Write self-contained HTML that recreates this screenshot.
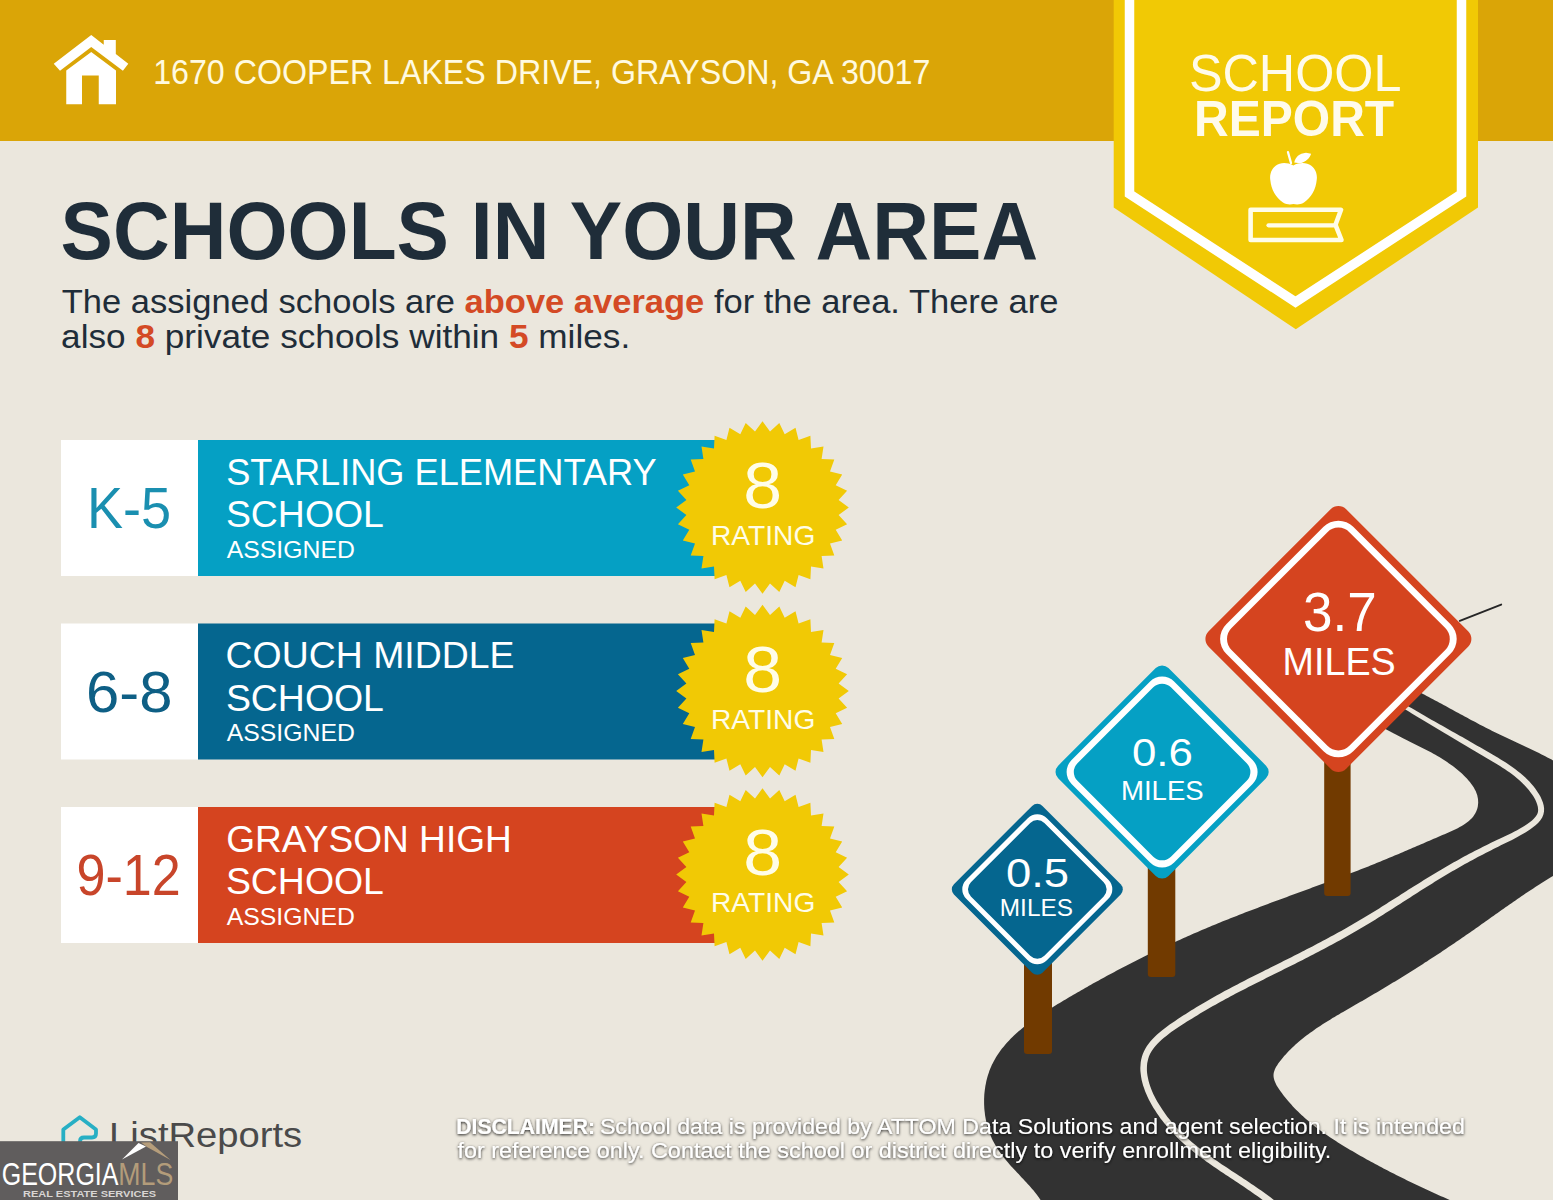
<!DOCTYPE html>
<html><head><meta charset="utf-8"><title>School Report</title>
<style>
html,body{margin:0;padding:0;background:#EBE7DD;}
body{width:1553px;height:1200px;overflow:hidden;}
svg{display:block;font-family:'Liberation Sans', Arial, sans-serif;}
</style></head>
<body>
<svg width="1553" height="1200" viewBox="0 0 1553 1200">
<defs>
<filter id="sh" x="-5%" y="-50%" width="110%" height="200%">
<feGaussianBlur in="SourceAlpha" stdDeviation="1.8" result="b"/>
<feOffset in="b" dx="0.2" dy="0.6" result="o"/>
<feFlood flood-color="#000000" flood-opacity="0.9"/>
<feComposite in2="o" operator="in" result="s"/>
<feMerge><feMergeNode in="s"/><feMergeNode in="SourceGraphic"/></feMerge>
</filter>
</defs>
<rect x="0" y="0" width="1553" height="1200" fill="#EBE7DD"/>
<rect x="0" y="0" width="1553" height="141" fill="#DAA507"/>
<path d="M53.75,63.75 L91.25,35 L103.75,44.7 L103.75,40 L115.8,40 L115.8,54 L128.3,63.75 L122.9,70.8 L91.25,47 L60,70.8 Z" fill="#FFFFFF"/>
<path d="M91.25,52 L116,70.5 L116,104.2 L98.75,104.2 L98.75,75.4 L82,75.4 L82,104.2 L66.25,104.2 L66.25,70.5 Z" fill="#FFFFFF"/>
<text x="153.2" y="83.8" font-size="34.2" fill="#FFFAE0" textLength="777.2" lengthAdjust="spacingAndGlyphs" >1670 COOPER LAKES DRIVE, GRAYSON, GA 30017</text>
<path d="M1113.7,0 L1478,0 L1478,207.5 L1295.8,329.2 L1113.7,207.5 Z" fill="#F1C905"/>
<path d="M1129.5,-10 L1129.5,194 L1295.5,302 L1461.5,194 L1461.5,-10" fill="none" stroke="#FFFFFF" stroke-width="9.5" stroke-linejoin="miter"/>
<text x="1188.9" y="90.5" font-size="51.9" fill="#FFFBEA" textLength="212.6" lengthAdjust="spacingAndGlyphs" >SCHOOL</text>
<text x="1194.1" y="136.2" font-size="49.7" fill="#FFFBEA" font-weight="700" textLength="200.1" lengthAdjust="spacingAndGlyphs" >REPORT</text>
<path d="M1293.3,165.5 C1287,162 1280,162.5 1276,165.5 C1271,169 1269.5,175 1270.3,180 C1271,189 1276,198 1283,202.5 C1287,205 1291,204.5 1293.5,204 C1296,204.5 1300,205 1304,202.5 C1311,198 1316,189 1316.7,180 C1317.5,175 1316,169 1311,165.5 C1307,162.5 1299.5,162 1293.3,165.5 Z" fill="#FFFFFF"/>
<path d="M1288,152.2 L1291,163" stroke="#FFFFFF" stroke-width="2.3" stroke-linecap="round"/>
<path d="M1294.2,162.5 C1295.5,157 1299,153.5 1306,152.8 L1311.1,153.8 C1310,158 1306,162 1300,163.3 Z" fill="#FFFFFF"/>
<path d="M1341,209.8 L1250.6,209.8 L1250.6,240 L1341.5,240 L1335.5,224.8 Z" fill="none" stroke="#FFFDE8" stroke-width="4.6" stroke-linejoin="round"/>
<path d="M1268.5,225.3 L1333.6,225.3" stroke="#FFFDE8" stroke-width="4.2" stroke-linecap="round"/>
<text x="60.6" y="259" font-size="80.8" fill="#1F2D39" font-weight="700" textLength="977.6" lengthAdjust="spacingAndGlyphs" >SCHOOLS IN YOUR AREA</text>
<text x="61.8" y="313.2" font-size="32.9" fill="#1F2D39" textLength="996.7" lengthAdjust="spacingAndGlyphs" >The assigned schools are <tspan font-weight="700" fill="#D44A25">above average</tspan> for the area. There are</text>
<text x="61.1" y="347.6" font-size="32.9" fill="#1F2D39" textLength="569.1" lengthAdjust="spacingAndGlyphs" >also <tspan font-weight="700" fill="#D44A25">8</tspan> private schools within <tspan font-weight="700" fill="#D44A25">5</tspan> miles.</text>
<rect x="61" y="440" width="137" height="136" fill="#FFFFFF"/>
<rect x="198" y="440" width="517" height="136" fill="#05A0C4"/>
<text x="86.9" y="528" font-size="57" fill="#1A8FB0" textLength="84.1" lengthAdjust="spacingAndGlyphs" >K-5</text>
<text x="226.2" y="484.5" font-size="37.8" fill="#FFFFFF" textLength="430.4" lengthAdjust="spacingAndGlyphs" >STARLING ELEMENTARY</text>
<text x="225.9" y="527" font-size="37.8" fill="#FFFFFF" textLength="158" lengthAdjust="spacingAndGlyphs" >SCHOOL</text>
<text x="226.7" y="557.7" font-size="23.7" fill="#FFFFFF" textLength="128.2" lengthAdjust="spacingAndGlyphs" >ASSIGNED</text>
<polygon points="848.8,507.5 838.6,515 847.1,524.3 835.7,529.7 842.2,540.5 830,543.6 834.3,555.4 821.6,556 823.5,568.5 811,566.6 810.4,579.3 798.6,575 795.5,587.2 784.7,580.7 779.3,592.1 770,583.6 762.5,593.8 755,583.6 745.7,592.1 740.3,580.7 729.5,587.2 726.4,575 714.6,579.3 714,566.6 701.5,568.5 703.4,556 690.7,555.4 695,543.6 682.8,540.5 689.3,529.7 677.9,524.3 686.4,515 676.2,507.5 686.4,500 677.9,490.7 689.3,485.3 682.8,474.5 695,471.4 690.7,459.6 703.4,459 701.5,446.5 714,448.4 714.6,435.7 726.4,440 729.5,427.8 740.3,434.3 745.7,422.9 755,431.4 762.5,421.2 770,431.4 779.3,422.9 784.7,434.3 795.5,427.8 798.6,440 810.4,435.7 811,448.4 823.5,446.5 821.6,459 834.3,459.6 830,471.4 842.2,474.5 835.7,485.3 847.1,490.7 838.6,500" fill="#F1C905"/>
<text x="743.3" y="508.2" font-size="65.4" fill="#FFFDE8" textLength="38.8" lengthAdjust="spacingAndGlyphs" >8</text>
<text x="711" y="545.3" font-size="27.9" fill="#FFFDE8" textLength="104.3" lengthAdjust="spacingAndGlyphs" >RATING</text>
<rect x="61" y="623.5" width="137" height="136" fill="#FFFFFF"/>
<rect x="198" y="623.5" width="517" height="136" fill="#05668F"/>
<text x="86" y="711.5" font-size="57" fill="#0E5F85" textLength="86.4" lengthAdjust="spacingAndGlyphs" >6-8</text>
<text x="225.6" y="668.4" font-size="37.8" fill="#FFFFFF" textLength="288.9" lengthAdjust="spacingAndGlyphs" >COUCH MIDDLE</text>
<text x="225.9" y="710.5" font-size="37.8" fill="#FFFFFF" textLength="158" lengthAdjust="spacingAndGlyphs" >SCHOOL</text>
<text x="226.7" y="741.2" font-size="23.7" fill="#FFFFFF" textLength="128.2" lengthAdjust="spacingAndGlyphs" >ASSIGNED</text>
<polygon points="848.8,691 838.6,698.5 847.1,707.8 835.7,713.2 842.2,724 830,727.1 834.3,738.9 821.6,739.5 823.5,752 811,750.1 810.4,762.8 798.6,758.5 795.5,770.7 784.7,764.2 779.3,775.6 770,767.1 762.5,777.3 755,767.1 745.7,775.6 740.3,764.2 729.5,770.7 726.4,758.5 714.6,762.8 714,750.1 701.5,752 703.4,739.5 690.7,738.9 695,727.1 682.8,724 689.3,713.2 677.9,707.8 686.4,698.5 676.2,691 686.4,683.5 677.9,674.2 689.3,668.8 682.8,658 695,654.9 690.7,643.1 703.4,642.5 701.5,630 714,631.9 714.6,619.2 726.4,623.5 729.5,611.3 740.3,617.8 745.7,606.4 755,614.9 762.5,604.7 770,614.9 779.3,606.4 784.7,617.8 795.5,611.3 798.6,623.5 810.4,619.2 811,631.9 823.5,630 821.6,642.5 834.3,643.1 830,654.9 842.2,658 835.7,668.8 847.1,674.2 838.6,683.5" fill="#F1C905"/>
<text x="743.3" y="691.7" font-size="65.4" fill="#FFFDE8" textLength="38.8" lengthAdjust="spacingAndGlyphs" >8</text>
<text x="711" y="728.8" font-size="27.9" fill="#FFFDE8" textLength="104.3" lengthAdjust="spacingAndGlyphs" >RATING</text>
<rect x="61" y="807" width="137" height="136" fill="#FFFFFF"/>
<rect x="198" y="807" width="517" height="136" fill="#D5441F"/>
<text x="76.5" y="894.8" font-size="57" fill="#C8452A" textLength="104.3" lengthAdjust="spacingAndGlyphs" >9-12</text>
<text x="226.2" y="851.7" font-size="37.8" fill="#FFFFFF" textLength="285.6" lengthAdjust="spacingAndGlyphs" >GRAYSON HIGH</text>
<text x="225.9" y="894" font-size="37.8" fill="#FFFFFF" textLength="158" lengthAdjust="spacingAndGlyphs" >SCHOOL</text>
<text x="226.7" y="924.7" font-size="23.7" fill="#FFFFFF" textLength="128.2" lengthAdjust="spacingAndGlyphs" >ASSIGNED</text>
<polygon points="848.8,874.5 838.6,882 847.1,891.3 835.7,896.7 842.2,907.5 830,910.6 834.3,922.4 821.6,923 823.5,935.5 811,933.6 810.4,946.3 798.6,942 795.5,954.2 784.7,947.7 779.3,959.1 770,950.6 762.5,960.8 755,950.6 745.7,959.1 740.3,947.7 729.5,954.2 726.4,942 714.6,946.3 714,933.6 701.5,935.5 703.4,923 690.7,922.4 695,910.6 682.8,907.5 689.3,896.7 677.9,891.3 686.4,882 676.2,874.5 686.4,867 677.9,857.7 689.3,852.3 682.8,841.5 695,838.4 690.7,826.6 703.4,826 701.5,813.5 714,815.4 714.6,802.7 726.4,807 729.5,794.8 740.3,801.3 745.7,789.9 755,798.4 762.5,788.2 770,798.4 779.3,789.9 784.7,801.3 795.5,794.8 798.6,807 810.4,802.7 811,815.4 823.5,813.5 821.6,826 834.3,826.6 830,838.4 842.2,841.5 835.7,852.3 847.1,857.7 838.6,867" fill="#F1C905"/>
<text x="743.3" y="875.2" font-size="65.4" fill="#FFFDE8" textLength="38.8" lengthAdjust="spacingAndGlyphs" >8</text>
<text x="711" y="912.3" font-size="27.9" fill="#FFFDE8" textLength="104.3" lengthAdjust="spacingAndGlyphs" >RATING</text>
<path d="M1395.0,680.1 L1397.1,681.1 L1399.2,682.1 L1401.4,683.1 L1403.5,684.1 L1405.6,685.1 L1407.7,686.2 L1409.8,687.2 L1411.9,688.3 L1414.0,689.4 L1416.1,690.4 L1418.3,691.5 L1420.4,692.6 L1422.5,693.7 L1424.6,694.8 L1426.7,695.9 L1428.8,697.0 L1430.9,698.2 L1433.0,699.3 L1435.1,700.4 L1437.3,701.6 L1439.4,702.7 L1441.5,703.8 L1443.6,705.0 L1445.7,706.1 L1447.8,707.3 L1449.9,708.4 L1452.0,709.6 L1454.1,710.7 L1456.3,711.9 L1458.4,713.0 L1460.5,714.2 L1462.6,715.3 L1464.7,716.5 L1466.8,717.6 L1468.9,718.7 L1471.0,719.9 L1473.2,721.0 L1475.3,722.1 L1477.4,723.3 L1479.5,724.4 L1481.6,725.5 L1483.7,726.6 L1485.9,727.7 L1488.0,728.8 L1490.1,729.8 L1492.2,730.9 L1494.4,732.0 L1496.5,733.0 L1498.6,734.1 L1500.7,735.1 L1502.9,736.1 L1505.0,737.1 L1507.1,738.1 L1509.2,739.1 L1511.4,740.1 L1513.5,741.1 L1515.6,742.1 L1517.7,743.1 L1519.9,744.1 L1522.0,745.1 L1524.1,746.0 L1526.2,747.0 L1528.4,748.0 L1530.5,749.0 L1532.6,750.0 L1534.7,751.0 L1536.8,752.1 L1539.0,753.1 L1541.1,754.2 L1543.2,755.2 L1545.3,756.3 L1547.4,757.4 L1549.5,758.5 L1551.6,759.6 L1553.7,760.8 L1555.8,761.9 L1557.8,763.1 L1559.9,764.3 L1562.0,765.5 L1564.1,766.8 L1566.1,768.1 L1568.2,769.4 L1570.3,770.7 L1572.3,772.1 L1574.3,773.5 L1576.4,774.9 L1578.4,776.4 L1580.4,777.9 L1582.5,779.4 L1584.5,781.0 L1586.4,782.6 L1588.4,784.3 L1590.3,785.9 L1592.1,787.6 L1593.9,789.4 L1595.6,791.2 L1597.3,792.9 L1598.8,794.8 L1600.3,796.6 L1601.7,798.5 L1602.9,800.4 L1604.0,802.4 L1605.0,804.3 L1605.9,806.3 L1606.6,808.3 L1607.1,810.3 L1607.5,812.4 L1607.8,814.5 L1607.8,816.6 L1607.7,818.7 L1607.4,820.8 L1606.9,822.9 L1606.3,825.1 L1605.5,827.2 L1604.7,829.3 L1603.6,831.5 L1602.5,833.6 L1601.3,835.7 L1599.9,837.8 L1598.5,839.8 L1597.0,841.9 L1595.4,843.9 L1593.7,845.8 L1592.0,847.7 L1590.2,849.6 L1588.3,851.5 L1586.5,853.2 L1584.5,855.0 L1582.6,856.6 L1580.7,858.2 L1578.7,859.7 L1576.8,861.2 L1574.8,862.6 L1572.8,864.0 L1570.9,865.3 L1568.9,866.5 L1567.0,867.7 L1565.0,868.9 L1563.0,870.1 L1561.0,871.3 L1559.1,872.4 L1557.1,873.6 L1555.1,874.7 L1553.1,875.9 L1551.2,877.1 L1549.2,878.3 L1547.2,879.5 L1545.2,880.7 L1543.2,882.0 L1541.2,883.2 L1539.3,884.5 L1537.3,885.8 L1535.3,887.1 L1533.3,888.4 L1531.3,889.7 L1529.3,891.0 L1527.4,892.3 L1525.4,893.6 L1523.4,895.0 L1521.4,896.3 L1519.4,897.7 L1517.4,899.1 L1515.5,900.4 L1513.5,901.8 L1511.5,903.2 L1509.5,904.6 L1507.5,906.0 L1505.5,907.3 L1503.6,908.7 L1501.6,910.1 L1499.6,911.5 L1497.6,912.9 L1495.6,914.3 L1493.7,915.7 L1491.7,917.1 L1489.7,918.5 L1487.7,919.9 L1485.8,921.3 L1483.8,922.7 L1481.8,924.1 L1479.9,925.5 L1477.9,926.9 L1475.9,928.3 L1474.0,929.7 L1472.0,931.0 L1470.0,932.4 L1468.1,933.8 L1466.1,935.1 L1464.2,936.5 L1462.2,937.8 L1460.2,939.2 L1458.3,940.5 L1456.3,941.8 L1454.4,943.2 L1452.4,944.5 L1450.5,945.8 L1448.5,947.1 L1446.5,948.4 L1444.6,949.8 L1442.6,951.1 L1440.7,952.4 L1438.7,953.7 L1436.7,954.9 L1434.8,956.2 L1432.8,957.5 L1430.8,958.8 L1428.9,960.1 L1426.9,961.4 L1424.9,962.6 L1423.0,963.9 L1421.0,965.2 L1419.0,966.4 L1417.0,967.7 L1415.1,968.9 L1413.1,970.2 L1411.1,971.5 L1409.1,972.7 L1407.1,974.0 L1405.1,975.2 L1403.1,976.4 L1401.1,977.7 L1399.1,978.9 L1397.1,980.2 L1395.1,981.4 L1393.0,982.6 L1391.0,983.8 L1389.0,985.1 L1387.0,986.3 L1384.9,987.5 L1382.9,988.8 L1380.8,990.0 L1378.8,991.2 L1376.7,992.4 L1374.7,993.6 L1372.6,994.8 L1370.5,996.1 L1368.4,997.3 L1366.4,998.5 L1364.3,999.7 L1362.2,1000.9 L1360.1,1002.1 L1358.0,1003.3 L1355.8,1004.6 L1353.7,1005.8 L1351.6,1007.0 L1349.5,1008.2 L1347.3,1009.4 L1345.2,1010.7 L1343.1,1011.9 L1341.0,1013.1 L1338.9,1014.4 L1336.8,1015.6 L1334.6,1016.9 L1332.5,1018.1 L1330.5,1019.4 L1328.4,1020.7 L1326.3,1022.0 L1324.2,1023.3 L1322.2,1024.6 L1320.2,1025.9 L1318.1,1027.3 L1316.1,1028.6 L1314.2,1030.0 L1312.2,1031.4 L1310.2,1032.8 L1308.3,1034.2 L1306.4,1035.6 L1304.5,1037.1 L1302.7,1038.5 L1300.8,1040.0 L1299.0,1041.5 L1297.3,1043.1 L1295.5,1044.6 L1293.8,1046.2 L1292.1,1047.8 L1290.4,1049.4 L1288.8,1051.1 L1287.2,1052.7 L1285.7,1054.4 L1284.1,1056.1 L1282.6,1057.9 L1281.2,1059.7 L1279.8,1061.5 L1278.4,1063.3 L1277.2,1065.2 L1276.0,1067.1 L1275.0,1069.0 L1274.3,1070.9 L1273.7,1072.9 L1273.5,1074.9 L1273.6,1077.0 L1274.0,1079.0 L1274.6,1081.1 L1275.5,1083.1 L1276.5,1085.2 L1277.8,1087.2 L1279.1,1089.3 L1280.5,1091.3 L1282.0,1093.3 L1283.4,1095.3 L1285.0,1097.2 L1286.5,1099.1 L1288.1,1101.0 L1289.7,1102.8 L1291.3,1104.6 L1292.9,1106.4 L1294.6,1108.2 L1296.3,1109.9 L1298.0,1111.6 L1299.7,1113.3 L1301.5,1114.9 L1303.3,1116.6 L1305.1,1118.2 L1306.9,1119.8 L1308.7,1121.3 L1310.6,1122.9 L1312.4,1124.4 L1314.3,1125.9 L1316.2,1127.4 L1318.1,1128.8 L1320.0,1130.3 L1322.0,1131.7 L1323.9,1133.1 L1325.9,1134.5 L1327.9,1135.8 L1329.9,1137.2 L1331.9,1138.5 L1333.9,1139.8 L1335.9,1141.1 L1337.9,1142.4 L1340.0,1143.7 L1342.0,1145.0 L1344.0,1146.2 L1346.1,1147.5 L1348.2,1148.7 L1350.2,1149.9 L1352.3,1151.1 L1354.4,1152.3 L1356.4,1153.5 L1358.5,1154.7 L1360.6,1155.9 L1362.7,1157.1 L1364.8,1158.2 L1366.8,1159.4 L1368.9,1160.5 L1371.0,1161.7 L1373.1,1162.8 L1375.2,1164.0 L1377.3,1165.1 L1379.4,1166.2 L1381.5,1167.3 L1383.5,1168.4 L1385.6,1169.5 L1387.7,1170.6 L1389.8,1171.7 L1391.9,1172.8 L1394.1,1173.8 L1396.2,1174.9 L1398.3,1176.0 L1400.4,1177.0 L1402.5,1178.1 L1404.6,1179.1 L1406.7,1180.2 L1408.8,1181.2 L1411.0,1182.2 L1413.1,1183.3 L1415.2,1184.3 L1417.4,1185.3 L1419.5,1186.3 L1421.6,1187.3 L1423.8,1188.3 L1425.9,1189.3 L1428.1,1190.3 L1430.2,1191.3 L1432.4,1192.3 L1434.5,1193.3 L1436.7,1194.2 L1438.8,1195.2 L1441.0,1196.2 L1443.2,1197.1 L1445.4,1198.1 L1447.5,1199.1 L1449.7,1200.0 L1451.9,1201.0 L1454.1,1201.9 L1456.3,1202.9 L1458.5,1203.8 L1460.7,1204.7 L1462.9,1205.7 L1465.1,1206.6 L1467.3,1207.5 L1469.5,1208.5 L1471.7,1209.4 L1474.0,1210.3 L1476.2,1211.2 L1478.4,1212.2 L1480.7,1213.1 L1482.9,1214.0 L1485.1,1214.9 L1048.4,1214.6 L1047.6,1212.6 L1046.7,1210.6 L1045.8,1208.7 L1044.7,1206.7 L1043.7,1204.9 L1042.6,1203.0 L1041.4,1201.2 L1040.2,1199.4 L1038.9,1197.6 L1037.6,1195.8 L1036.3,1194.1 L1034.9,1192.3 L1033.6,1190.6 L1032.1,1189.0 L1030.7,1187.3 L1029.2,1185.6 L1027.7,1184.0 L1026.2,1182.3 L1024.7,1180.7 L1023.2,1179.0 L1021.6,1177.4 L1020.1,1175.8 L1018.6,1174.1 L1017.0,1172.5 L1015.5,1170.8 L1014.0,1169.2 L1012.4,1167.5 L1010.9,1165.9 L1009.4,1164.2 L1008.0,1162.5 L1006.5,1160.8 L1005.1,1159.1 L1003.7,1157.4 L1002.3,1155.6 L1001.0,1153.8 L999.7,1152.0 L998.5,1150.2 L997.2,1148.4 L996.1,1146.5 L995.0,1144.6 L993.9,1142.6 L992.9,1140.7 L991.9,1138.7 L991.0,1136.6 L990.2,1134.6 L989.4,1132.5 L988.7,1130.3 L988.0,1128.2 L987.3,1126.0 L986.8,1123.9 L986.3,1121.7 L985.8,1119.4 L985.4,1117.2 L985.0,1115.0 L984.8,1112.7 L984.5,1110.5 L984.3,1108.2 L984.2,1105.9 L984.1,1103.7 L984.1,1101.4 L984.1,1099.1 L984.2,1096.9 L984.3,1094.6 L984.5,1092.4 L984.8,1090.1 L985.1,1087.9 L985.4,1085.7 L985.9,1083.5 L986.3,1081.3 L986.8,1079.2 L987.4,1077.0 L988.0,1074.9 L988.7,1072.9 L989.4,1070.8 L990.2,1068.8 L991.1,1066.8 L991.9,1064.8 L992.9,1062.9 L993.9,1061.0 L994.9,1059.2 L996.0,1057.3 L997.1,1055.5 L998.3,1053.7 L999.5,1052.0 L1000.7,1050.2 L1002.0,1048.5 L1003.4,1046.9 L1004.8,1045.2 L1006.2,1043.6 L1007.6,1042.0 L1009.1,1040.4 L1010.6,1038.8 L1012.2,1037.3 L1013.7,1035.8 L1015.3,1034.3 L1017.0,1032.8 L1018.6,1031.3 L1020.3,1029.9 L1022.0,1028.5 L1023.8,1027.1 L1025.5,1025.7 L1027.3,1024.3 L1029.1,1023.0 L1031.0,1021.6 L1032.8,1020.3 L1034.6,1019.0 L1036.5,1017.7 L1038.4,1016.4 L1040.3,1015.2 L1042.2,1013.9 L1044.1,1012.6 L1046.1,1011.4 L1048.0,1010.2 L1049.9,1009.0 L1051.9,1007.7 L1053.8,1006.5 L1055.8,1005.3 L1057.7,1004.1 L1059.7,1003.0 L1061.7,1001.8 L1063.6,1000.6 L1065.6,999.4 L1067.5,998.3 L1069.5,997.1 L1071.4,996.0 L1073.4,994.8 L1075.3,993.7 L1077.3,992.5 L1079.3,991.4 L1081.2,990.3 L1083.2,989.2 L1085.1,988.0 L1087.1,986.9 L1089.0,985.8 L1091.0,984.7 L1092.9,983.6 L1094.9,982.5 L1096.8,981.4 L1098.8,980.4 L1100.7,979.3 L1102.7,978.2 L1104.6,977.2 L1106.6,976.1 L1108.5,975.0 L1110.5,974.0 L1112.5,972.9 L1114.4,971.9 L1116.4,970.8 L1118.3,969.8 L1120.3,968.8 L1122.2,967.8 L1124.2,966.7 L1126.2,965.7 L1128.1,964.7 L1130.1,963.7 L1132.0,962.7 L1134.0,961.7 L1136.0,960.7 L1137.9,959.7 L1139.9,958.7 L1141.9,957.7 L1143.8,956.8 L1145.8,955.8 L1147.8,954.8 L1149.8,953.9 L1151.7,952.9 L1153.7,951.9 L1155.7,951.0 L1157.7,950.0 L1159.7,949.1 L1161.6,948.2 L1163.6,947.2 L1165.6,946.3 L1167.6,945.4 L1169.6,944.4 L1171.6,943.5 L1173.6,942.6 L1175.6,941.7 L1177.6,940.8 L1179.6,939.9 L1181.6,939.0 L1183.6,938.1 L1185.6,937.2 L1187.6,936.3 L1189.6,935.4 L1191.6,934.5 L1193.7,933.6 L1195.7,932.7 L1197.7,931.9 L1199.7,931.0 L1201.8,930.1 L1203.8,929.3 L1205.8,928.4 L1207.9,927.6 L1209.9,926.7 L1211.9,925.8 L1214.0,925.0 L1216.0,924.2 L1218.1,923.3 L1220.1,922.5 L1222.2,921.6 L1224.2,920.8 L1226.3,920.0 L1228.4,919.2 L1230.4,918.3 L1232.5,917.5 L1234.6,916.7 L1236.7,915.9 L1238.7,915.1 L1240.8,914.3 L1242.9,913.5 L1245.0,912.6 L1247.1,911.8 L1249.2,911.0 L1251.3,910.2 L1253.3,909.4 L1255.4,908.7 L1257.5,907.9 L1259.6,907.1 L1261.7,906.3 L1263.8,905.5 L1265.9,904.7 L1268.0,903.9 L1270.1,903.1 L1272.2,902.3 L1274.3,901.6 L1276.4,900.8 L1278.6,900.0 L1280.7,899.2 L1282.8,898.5 L1284.9,897.7 L1287.0,896.9 L1289.1,896.1 L1291.2,895.3 L1293.3,894.6 L1295.4,893.8 L1297.5,893.0 L1299.6,892.3 L1301.7,891.5 L1303.8,890.7 L1305.9,889.9 L1308.0,889.2 L1310.1,888.4 L1312.2,887.6 L1314.3,886.8 L1316.5,886.1 L1318.5,885.3 L1320.6,884.5 L1322.7,883.7 L1324.8,883.0 L1326.9,882.2 L1329.0,881.4 L1331.1,880.6 L1333.2,879.8 L1335.3,879.1 L1337.4,878.3 L1339.5,877.5 L1341.5,876.7 L1343.6,875.9 L1345.7,875.1 L1347.8,874.4 L1349.8,873.6 L1351.9,872.8 L1354.0,872.0 L1356.0,871.2 L1358.1,870.4 L1360.2,869.6 L1362.2,868.8 L1364.3,868.0 L1366.3,867.2 L1368.4,866.4 L1370.4,865.6 L1372.4,864.7 L1374.5,863.9 L1376.5,863.1 L1378.5,862.3 L1380.6,861.5 L1382.6,860.6 L1384.6,859.8 L1386.6,859.0 L1388.6,858.1 L1390.6,857.3 L1392.6,856.5 L1394.6,855.6 L1396.7,854.8 L1398.7,853.9 L1400.7,853.1 L1402.7,852.2 L1404.7,851.3 L1406.7,850.5 L1408.8,849.6 L1410.8,848.7 L1412.8,847.8 L1414.9,847.0 L1416.9,846.1 L1419.0,845.2 L1421.1,844.3 L1423.2,843.4 L1425.2,842.5 L1427.3,841.6 L1429.5,840.7 L1431.6,839.8 L1433.7,838.8 L1435.9,837.9 L1438.0,837.0 L1440.2,836.0 L1442.4,835.1 L1444.6,834.2 L1446.8,833.2 L1449.0,832.2 L1451.2,831.3 L1453.4,830.3 L1455.6,829.2 L1457.7,828.2 L1459.7,827.1 L1461.7,826.0 L1463.7,824.8 L1465.5,823.6 L1467.2,822.3 L1468.9,821.0 L1470.4,819.6 L1471.8,818.2 L1473.1,816.7 L1474.2,815.1 L1475.2,813.4 L1476.1,811.8 L1476.8,810.0 L1477.4,808.2 L1477.8,806.4 L1478.0,804.6 L1478.2,802.7 L1478.1,800.8 L1478.0,798.9 L1477.6,797.0 L1477.2,795.1 L1476.5,793.2 L1475.8,791.3 L1474.8,789.4 L1473.8,787.6 L1472.6,785.7 L1471.3,783.9 L1469.9,782.1 L1468.5,780.4 L1466.9,778.6 L1465.3,776.9 L1463.6,775.3 L1461.9,773.6 L1460.1,772.0 L1458.3,770.5 L1456.5,769.0 L1454.7,767.5 L1452.8,766.1 L1450.9,764.7 L1449.0,763.4 L1447.1,762.1 L1445.2,760.8 L1443.2,759.5 L1441.3,758.3 L1439.3,757.1 L1437.4,755.9 L1435.4,754.8 L1433.4,753.7 L1431.4,752.6 L1429.4,751.5 L1427.4,750.5 L1425.4,749.4 L1423.4,748.4 L1421.4,747.4 L1419.4,746.4 L1417.4,745.4 L1415.4,744.4 L1413.4,743.4 L1411.4,742.4 L1409.4,741.4 L1407.5,740.5 L1405.5,739.5 L1403.5,738.5 L1401.6,737.5 L1399.7,736.5 L1397.8,735.5 L1395.9,734.5 L1393.9,733.5 L1392.0,732.5 L1390.1,731.6 L1388.2,730.6 L1386.3,729.6 L1384.4,728.6 L1382.4,727.6 L1380.5,726.6 L1378.5,725.6 L1376.6,724.6 L1374.6,723.6 L1372.6,722.6 L1370.6,721.7 L1368.5,720.7 L1366.5,719.7 L1364.4,718.8 L1362.2,717.8 L1360.1,716.9 Z" fill="#323232"/>
<path d="M1394.0,702.5 L1396.6,704.1 L1399.1,705.6 L1401.6,707.2 L1404.2,708.7 L1406.7,710.3 L1409.2,711.8 L1411.8,713.4 L1414.3,714.9 L1416.8,716.4 L1419.3,717.9 L1421.9,719.4 L1424.4,721.0 L1426.9,722.5 L1429.4,724.0 L1431.9,725.5 L1434.4,727.0 L1436.9,728.5 L1439.4,730.0 L1441.9,731.5 L1444.4,732.9 L1447.0,734.4 L1449.5,735.9 L1452.0,737.4 L1454.5,738.9 L1457.0,740.4 L1459.5,741.9 L1462.0,743.4 L1464.6,744.9 L1467.1,746.4 L1469.6,747.9 L1472.1,749.4 L1474.7,750.9 L1477.2,752.4 L1479.7,753.9 L1482.3,755.4 L1484.8,756.9 L1487.3,758.4 L1489.9,759.9 L1492.4,761.4 L1495.0,763.0 L1497.5,764.5 L1500.0,766.1 L1502.5,767.7 L1505.0,769.3 L1507.4,770.9 L1509.8,772.6 L1512.1,774.3 L1514.4,776.1 L1516.7,777.9 L1518.8,779.8 L1521.0,781.7 L1523.0,783.7 L1525.0,785.8 L1527.0,787.9 L1528.8,790.1 L1530.6,792.4 L1532.3,794.7 L1533.8,797.1 L1535.2,799.6 L1536.3,802.0 L1537.2,804.4 L1537.8,806.7 L1538.1,808.9 L1538.1,810.9 L1537.7,812.9 L1536.9,814.7 L1535.7,816.6 L1534.0,818.5 L1532.0,820.4 L1529.7,822.2 L1527.3,824.0 L1524.7,825.7 L1522.2,827.3 L1519.6,828.8 L1517.1,830.2 L1514.5,831.6 L1511.8,832.9 L1509.2,834.2 L1506.5,835.5 L1503.9,836.8 L1501.2,838.0 L1498.5,839.3 L1495.8,840.5 L1493.1,841.8 L1490.5,843.1 L1487.8,844.4 L1485.1,845.7 L1482.5,847.0 L1479.9,848.4 L1477.2,849.7 L1474.6,851.1 L1472.0,852.4 L1469.3,853.8 L1466.7,855.2 L1464.1,856.6 L1461.5,858.0 L1459.0,859.4 L1456.4,860.9 L1453.8,862.3 L1451.2,863.8 L1448.7,865.2 L1446.1,866.7 L1443.6,868.2 L1441.1,869.7 L1438.5,871.2 L1436.0,872.7 L1433.5,874.2 L1431.0,875.7 L1428.5,877.2 L1426.0,878.8 L1423.5,880.3 L1421.0,881.9 L1418.6,883.4 L1416.1,885.0 L1413.6,886.5 L1411.2,888.1 L1408.7,889.6 L1406.2,891.2 L1403.8,892.8 L1401.3,894.3 L1398.9,895.9 L1396.4,897.5 L1394.0,899.0 L1391.5,900.6 L1389.0,902.1 L1386.6,903.7 L1384.1,905.3 L1381.6,906.8 L1379.2,908.4 L1376.7,909.9 L1374.2,911.4 L1371.7,913.0 L1369.2,914.5 L1366.7,916.0 L1364.2,917.6 L1361.7,919.1 L1359.1,920.6 L1356.6,922.1 L1354.0,923.5 L1351.5,925.0 L1348.9,926.5 L1346.4,928.0 L1343.8,929.4 L1341.2,930.9 L1338.6,932.3 L1336.0,933.8 L1333.4,935.2 L1330.8,936.6 L1328.2,938.0 L1325.5,939.4 L1322.9,940.8 L1320.3,942.2 L1317.7,943.6 L1315.0,945.0 L1312.4,946.4 L1309.8,947.7 L1307.1,949.1 L1304.5,950.5 L1301.9,951.8 L1299.2,953.2 L1296.6,954.5 L1294.0,955.8 L1291.4,957.2 L1288.8,958.5 L1286.1,959.8 L1283.5,961.1 L1280.9,962.4 L1278.3,963.7 L1275.8,965.0 L1273.2,966.3 L1270.6,967.6 L1268.0,968.9 L1265.5,970.1 L1262.9,971.4 L1260.3,972.7 L1257.8,974.0 L1255.2,975.3 L1252.7,976.5 L1250.1,977.8 L1247.6,979.1 L1245.0,980.4 L1242.5,981.7 L1239.9,983.0 L1237.4,984.4 L1234.8,985.7 L1232.3,987.0 L1229.7,988.4 L1227.2,989.7 L1224.6,991.1 L1222.1,992.5 L1219.5,993.9 L1217.0,995.3 L1214.4,996.8 L1211.8,998.2 L1209.2,999.7 L1206.7,1001.2 L1204.1,1002.7 L1201.5,1004.2 L1198.9,1005.8 L1196.3,1007.3 L1193.7,1008.9 L1191.0,1010.6 L1188.4,1012.2 L1185.8,1013.9 L1183.1,1015.6 L1180.5,1017.3 L1177.8,1019.1 L1175.1,1020.9 L1172.4,1022.7 L1169.7,1024.6 L1167.1,1026.5 L1164.5,1028.4 L1161.9,1030.4 L1159.5,1032.5 L1157.1,1034.6 L1154.8,1036.8 L1152.6,1039.0 L1150.5,1041.3 L1148.6,1043.7 L1146.9,1046.1 L1145.3,1048.7 L1144.0,1051.3 L1142.8,1054.0 L1141.9,1056.7 L1141.2,1059.5 L1140.7,1062.3 L1140.5,1065.2 L1140.3,1068.1 L1140.4,1070.9 L1140.7,1073.8 L1141.1,1076.7 L1141.6,1079.7 L1142.3,1082.6 L1143.1,1085.5 L1144.1,1088.3 L1145.1,1091.2 L1146.3,1094.1 L1147.6,1096.9 L1148.9,1099.7 L1150.4,1102.5 L1151.9,1105.3 L1153.5,1108.0 L1155.2,1110.6 L1156.9,1113.3 L1158.7,1115.8 L1160.5,1118.4 L1162.4,1120.8 L1164.3,1123.2 L1166.2,1125.6 L1168.2,1127.9 L1170.2,1130.2 L1172.3,1132.4 L1174.4,1134.6 L1176.5,1136.7 L1178.6,1138.8 L1180.8,1140.9 L1183.0,1142.9 L1185.2,1144.9 L1187.5,1146.8 L1189.7,1148.7 L1192.0,1150.6 L1194.3,1152.5 L1196.7,1154.3 L1199.0,1156.1 L1201.4,1157.9 L1203.8,1159.6 L1206.2,1161.4 L1208.6,1163.1 L1211.0,1164.8 L1213.4,1166.5 L1215.8,1168.1 L1218.3,1169.8 L1220.7,1171.4 L1223.2,1173.1 L1225.6,1174.7 L1228.1,1176.3 L1230.6,1178.0 L1233.0,1179.6 L1235.5,1181.2 L1237.9,1182.8 L1240.4,1184.5 L1242.8,1186.1 L1245.3,1187.7 L1247.7,1189.4 L1250.1,1191.1 L1252.5,1192.7 L1254.9,1194.4 L1257.3,1196.1 L1259.7,1197.8 L1262.0,1199.5 L1264.3,1201.3 L1266.7,1203.1 L1269.0,1204.9 L1271.2,1206.7 L1273.5,1208.5 L1275.7,1210.4 L1277.9,1212.3 L1280.1,1214.2 L1282.3,1216.2 L1287.0,1210.9 L1284.8,1208.9 L1282.5,1207.0 L1280.2,1205.0 L1277.9,1203.1 L1275.5,1201.3 L1273.2,1199.4 L1270.8,1197.6 L1268.4,1195.8 L1266.0,1194.1 L1263.6,1192.3 L1261.2,1190.6 L1258.8,1188.9 L1256.3,1187.2 L1253.9,1185.5 L1251.4,1183.9 L1249.0,1182.2 L1246.5,1180.6 L1244.0,1179.0 L1241.6,1177.3 L1239.1,1175.7 L1236.6,1174.1 L1234.2,1172.5 L1231.7,1170.9 L1229.3,1169.3 L1226.8,1167.6 L1224.4,1166.0 L1221.9,1164.4 L1219.5,1162.8 L1217.1,1161.1 L1214.7,1159.4 L1212.3,1157.8 L1210.0,1156.1 L1207.6,1154.4 L1205.3,1152.7 L1202.9,1150.9 L1200.6,1149.2 L1198.4,1147.4 L1196.1,1145.6 L1193.9,1143.7 L1191.7,1141.9 L1189.5,1140.0 L1187.3,1138.1 L1185.2,1136.1 L1183.1,1134.1 L1181.1,1132.1 L1179.0,1130.1 L1177.0,1128.0 L1175.0,1125.8 L1173.1,1123.7 L1171.2,1121.4 L1169.4,1119.2 L1167.5,1116.9 L1165.7,1114.5 L1164.0,1112.1 L1162.3,1109.6 L1160.7,1107.1 L1159.1,1104.6 L1157.5,1102.0 L1156.1,1099.4 L1154.7,1096.8 L1153.4,1094.2 L1152.2,1091.5 L1151.2,1088.9 L1150.2,1086.2 L1149.3,1083.6 L1148.6,1080.9 L1148.0,1078.3 L1147.5,1075.7 L1147.1,1073.1 L1146.9,1070.6 L1146.9,1068.1 L1147.0,1065.7 L1147.2,1063.2 L1147.7,1060.9 L1148.3,1058.6 L1149.0,1056.3 L1150.0,1054.1 L1151.1,1052.0 L1152.4,1049.9 L1154.0,1047.8 L1155.7,1045.7 L1157.5,1043.7 L1159.5,1041.7 L1161.6,1039.7 L1163.9,1037.8 L1166.3,1035.9 L1168.7,1034.0 L1171.2,1032.1 L1173.8,1030.3 L1176.4,1028.5 L1179.0,1026.8 L1181.7,1025.0 L1184.4,1023.3 L1187.0,1021.6 L1189.6,1020.0 L1192.2,1018.4 L1194.9,1016.7 L1197.5,1015.2 L1200.0,1013.6 L1202.6,1012.1 L1205.2,1010.5 L1207.8,1009.0 L1210.3,1007.6 L1212.9,1006.1 L1215.5,1004.7 L1218.0,1003.2 L1220.6,1001.8 L1223.1,1000.4 L1225.6,999.0 L1228.2,997.7 L1230.7,996.3 L1233.2,995.0 L1235.8,993.6 L1238.3,992.3 L1240.8,991.0 L1243.4,989.7 L1245.9,988.4 L1248.4,987.1 L1251.0,985.8 L1253.5,984.5 L1256.0,983.2 L1258.6,981.9 L1261.1,980.7 L1263.7,979.4 L1266.2,978.1 L1268.8,976.8 L1271.4,975.6 L1273.9,974.3 L1276.5,973.0 L1279.1,971.7 L1281.7,970.4 L1284.3,969.1 L1286.9,967.8 L1289.5,966.5 L1292.1,965.2 L1294.8,963.9 L1297.4,962.5 L1300.0,961.2 L1302.7,959.9 L1305.3,958.5 L1307.9,957.2 L1310.6,955.8 L1313.2,954.4 L1315.9,953.1 L1318.5,951.7 L1321.2,950.3 L1323.8,948.9 L1326.5,947.5 L1329.1,946.1 L1331.7,944.7 L1334.4,943.3 L1337.0,941.8 L1339.6,940.4 L1342.3,938.9 L1344.9,937.5 L1347.5,936.0 L1350.1,934.5 L1352.7,933.1 L1355.3,931.6 L1357.9,930.1 L1360.4,928.6 L1363.0,927.1 L1365.5,925.5 L1368.1,924.0 L1370.6,922.5 L1373.1,920.9 L1375.6,919.4 L1378.1,917.8 L1380.6,916.3 L1383.1,914.7 L1385.6,913.1 L1388.1,911.6 L1390.6,910.0 L1393.0,908.4 L1395.5,906.8 L1397.9,905.3 L1400.4,903.7 L1402.9,902.1 L1405.3,900.5 L1407.7,898.9 L1410.2,897.4 L1412.6,895.8 L1415.1,894.2 L1417.5,892.7 L1420.0,891.1 L1422.4,889.5 L1424.9,888.0 L1427.3,886.4 L1429.8,884.9 L1432.3,883.4 L1434.7,881.8 L1437.2,880.3 L1439.7,878.8 L1442.2,877.3 L1444.7,875.8 L1447.2,874.3 L1449.7,872.8 L1452.2,871.3 L1454.7,869.9 L1457.3,868.4 L1459.8,867.0 L1462.4,865.6 L1464.9,864.1 L1467.5,862.7 L1470.0,861.3 L1472.6,859.9 L1475.2,858.5 L1477.8,857.1 L1480.4,855.8 L1483.0,854.4 L1485.6,853.1 L1488.2,851.7 L1490.8,850.4 L1493.4,849.0 L1496.0,847.7 L1498.7,846.4 L1501.3,845.1 L1504.0,843.8 L1506.6,842.5 L1509.3,841.2 L1512.0,839.9 L1514.7,838.5 L1517.4,837.1 L1520.0,835.6 L1522.7,834.1 L1525.4,832.4 L1528.1,830.7 L1530.7,828.9 L1533.3,827.0 L1535.9,824.9 L1538.3,822.7 L1540.4,820.2 L1542.2,817.5 L1543.4,814.6 L1544.0,811.6 L1544.1,808.6 L1543.7,805.5 L1542.9,802.6 L1541.8,799.7 L1540.5,796.8 L1538.9,794.0 L1537.2,791.4 L1535.4,788.8 L1533.5,786.3 L1531.5,783.9 L1529.4,781.6 L1527.3,779.4 L1525.1,777.3 L1522.8,775.3 L1520.5,773.3 L1518.1,771.4 L1515.7,769.5 L1513.3,767.7 L1510.8,766.0 L1508.3,764.3 L1505.8,762.6 L1503.2,761.0 L1500.7,759.4 L1498.1,757.8 L1495.5,756.3 L1492.9,754.8 L1490.4,753.3 L1487.8,751.8 L1485.2,750.3 L1482.7,748.8 L1480.1,747.3 L1477.6,745.9 L1475.0,744.4 L1472.5,742.9 L1469.9,741.5 L1467.4,740.0 L1464.8,738.6 L1462.3,737.1 L1459.7,735.7 L1457.2,734.2 L1454.6,732.8 L1452.1,731.4 L1449.6,729.9 L1447.0,728.5 L1444.5,727.1 L1441.9,725.6 L1439.4,724.2 L1436.9,722.8 L1434.3,721.3 L1431.8,719.9 L1429.2,718.4 L1426.7,717.0 L1424.2,715.5 L1421.6,714.0 L1419.1,712.6 L1416.5,711.1 L1414.0,709.6 L1411.4,708.1 L1408.9,706.7 L1406.3,705.2 L1403.8,703.6 L1401.2,702.1 L1398.6,700.6 L1396.1,699.1 Z" fill="#EBE7DD"/>
<path d="M1459.8,620.8 L1501.2,604.6" stroke="#262626" stroke-width="1.9" stroke-linecap="round"/>
<path d="M1324.2,740 L1350.6,740 L1350.6,893 Q1350.6,896 1347.6,896 L1327.2,896 Q1324.2,896 1324.2,893 Z" fill="#713A00"/>
<path d="M1147.8,860 L1175.3,860 L1175.3,974 Q1175.3,977 1172.3,977 L1150.8,977 Q1147.8,977 1147.8,974 Z" fill="#713A00"/>
<path d="M1024,950 L1052,950 L1052,1051 Q1052,1054 1049,1054 L1027,1054 Q1024,1054 1024,1051 Z" fill="#713A00"/>
<g transform="translate(1338.4,639) rotate(45)"><rect x="-97.3" y="-97.3" width="194.5" height="194.5" rx="11" fill="#D5441F"/><rect x="-89.8" y="-89.8" width="179.6" height="179.6" rx="21" fill="#FFFFFF"/><rect x="-83.3" y="-83.3" width="166.6" height="166.6" rx="15.5" fill="#D5441F"/></g>
<g transform="translate(1162.1,772) rotate(45)"><rect x="-78" y="-78" width="156" height="156" rx="9" fill="#05A0C4"/><rect x="-72.5" y="-72.5" width="145" height="145" rx="17" fill="#FFFFFF"/><rect x="-66.1" y="-66.1" width="132.2" height="132.2" rx="12.5" fill="#05A0C4"/></g>
<g transform="translate(1037.3,889.3) rotate(45)"><rect x="-62.6" y="-62.6" width="125.2" height="125.2" rx="7.3" fill="#05668F"/><rect x="-57" y="-57" width="114" height="114" rx="13.5" fill="#FFFFFF"/><rect x="-51.9" y="-51.9" width="103.9" height="103.9" rx="10" fill="#05668F"/></g>
<text x="1303" y="630.8" font-size="54.8" fill="#FFFFFF" textLength="73.7" lengthAdjust="spacingAndGlyphs" >3.7</text>
<text x="1282.5" y="674.8" font-size="39.5" fill="#FFFFFF" textLength="113.2" lengthAdjust="spacingAndGlyphs" >MILES</text>
<text x="1132" y="765.6" font-size="38" fill="#FFFFFF" textLength="60.9" lengthAdjust="spacingAndGlyphs" >0.6</text>
<text x="1121" y="800" font-size="27.3" fill="#FFFFFF" textLength="82.7" lengthAdjust="spacingAndGlyphs" >MILES</text>
<text x="1005.9" y="886.9" font-size="41" fill="#FFFFFF" textLength="63.2" lengthAdjust="spacingAndGlyphs" >0.5</text>
<text x="999.8" y="916" font-size="23.7" fill="#FFFFFF" textLength="73.2" lengthAdjust="spacingAndGlyphs" >MILES</text>
<path d="M80,1146 L80,1141.5 Q80,1137.5 84,1137.5 L92,1137.5 Q96,1137.5 96,1133.5 L96,1129.5 L79.8,1117.3 L63.3,1129.5 L63.3,1146" fill="none" stroke="#27AFC4" stroke-width="3.8" stroke-linejoin="round"/>
<text x="109.1" y="1147" font-size="35.3" fill="#4A4A4A" textLength="193.1" lengthAdjust="spacingAndGlyphs" >ListReports</text>
<rect x="0" y="1141.2" width="178" height="60" fill="#605D5D"/>
<path d="M122,1159.5 L138.5,1143 L146,1146.5 Z" fill="#FFFFFF"/>
<path d="M141,1142.5 L150,1142.2 L170.5,1160 L147,1147 Z" fill="#B59D7B"/>
<text x="1.7" y="1184.5" font-size="31.5" fill="#FFFFFF" textLength="116.8" lengthAdjust="spacingAndGlyphs" >GEORGIA</text>
<text x="118.3" y="1184.5" font-size="31.5" fill="#B39C7A" textLength="54.9" lengthAdjust="spacingAndGlyphs" >MLS</text>
<text x="23" y="1196.8" font-size="8.7" fill="#D8D5D3" font-weight="700" textLength="133.1" lengthAdjust="spacingAndGlyphs" >REAL ESTATE SERVICES</text>
<g filter="url(#sh)"><text x="456.3" y="1134" font-size="21.4" fill="#FFFFFF" font-weight="700" textLength="138.7" lengthAdjust="spacingAndGlyphs" >DISCLAIMER:</text><text x="599.9" y="1134" font-size="21.4" fill="#FFFFFF" textLength="865" lengthAdjust="spacingAndGlyphs" >School data is provided by ATTOM Data Solutions and agent selection. It is intended</text><text x="457.4" y="1157.6" font-size="21.4" fill="#FFFFFF" textLength="874" lengthAdjust="spacingAndGlyphs" >for reference only. Contact the school or district directly to verify enrollment eligibility.</text></g>
</svg>
</body></html>
